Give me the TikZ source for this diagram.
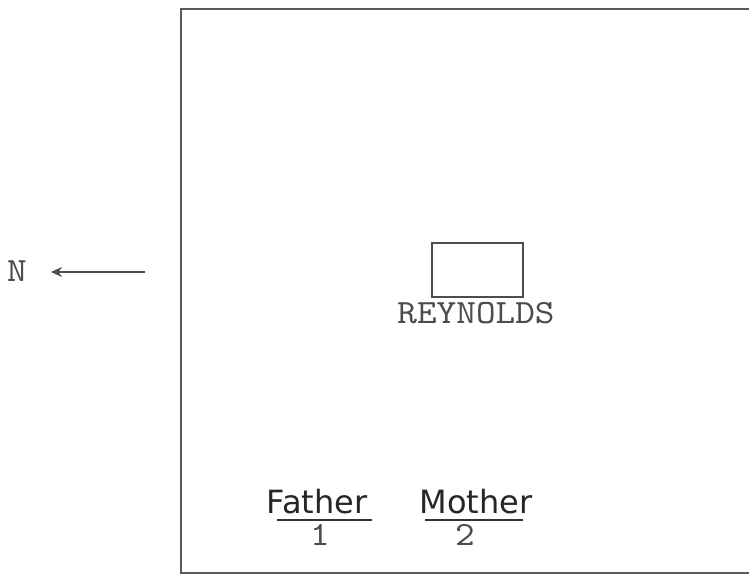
\documentclass[tikz,border=0pt]{standalone}
\usepackage{fontspec}
\usetikzlibrary{arrows.meta}
\newfontfamily\handfont{DejaVu Sans}
\newfontfamily\typefont{lmmono10-regular}[Extension=.otf, FakeStretch=1.1]
\begin{document}
\begin{tikzpicture}[x=1pt,y=-1pt,
    typed/.style={font=\typefont\fontsize{34}{34}\selectfont, text=black!70, inner sep=0pt, anchor=base},
    hand/.style={font=\handfont\fontsize{32}{32}\selectfont, text=black!85, inner sep=0pt, anchor=base, text depth=0pt}]
  \useasboundingbox (0,0) rectangle (749,588);
  \clip (0,0) rectangle (749,588);
  % lot lines
  \draw[line width=1.6pt, black!65] (770,9) -- (181,9) -- (181,573) -- (770,573);
  \node[typed] (north) at (17,281) {N};
  \coordinate (tail) at (145,272);
  \draw[-{Stealth[length=11pt,width=10pt]}, line width=1.4pt, black!70, shorten >=24pt] (tail) -- (north.east |- tail);
  \node[draw, line width=1.3pt, black!70, minimum width=91pt, minimum height=54pt] (house) at (477.5,270) {};
  \node[typed] (name) at (476,323) {REYNOLDS};
  \foreach \x/\who/\n/\nx/\a/\b in {317/Father/1/320/277/372, 476/Mother/2/465/425/523}
  {
    \node[hand] (\who) at (\x,513) {\who};
    \draw[line width=1.4pt, black!80] (\a,520) -- (\b,520);
    \node[typed, text height=19pt, text depth=0pt] (n\n) at (\nx,545) {\n};
  }
\end{tikzpicture}
\end{document}
